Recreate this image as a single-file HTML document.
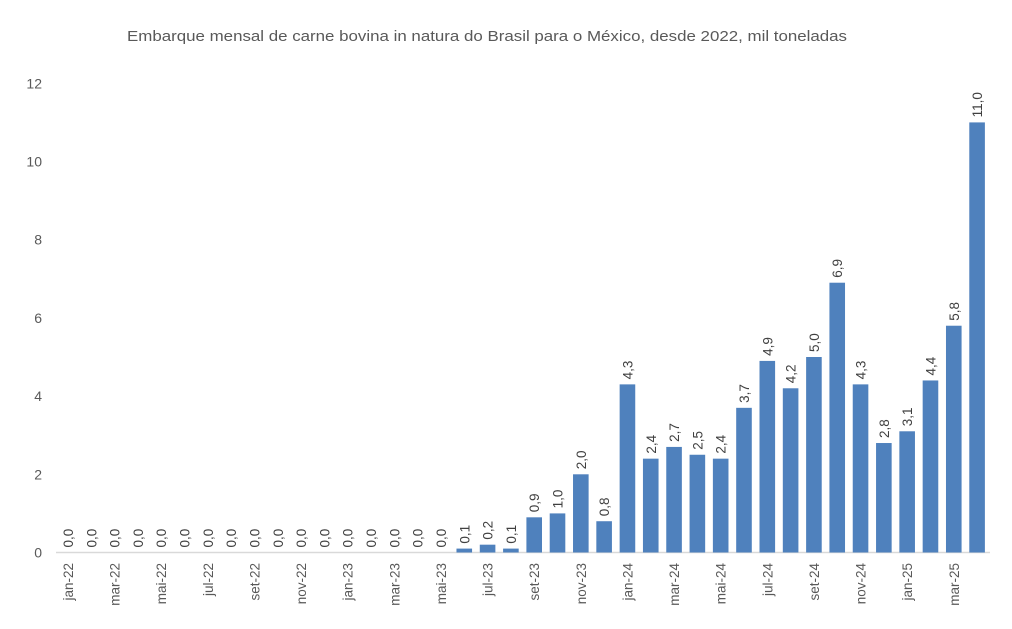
<!DOCTYPE html>
<html><head><meta charset="utf-8"><style>
body{margin:0;background:#fff;}
svg{display:block;font-family:"Liberation Sans",sans-serif;}
</style></head><body>
<svg id="c" width="1012" height="629" xmlns="http://www.w3.org/2000/svg">
<text x="487" y="41" font-size="15" fill="#595959" text-anchor="middle" textLength="720" lengthAdjust="spacingAndGlyphs">Embarque mensal de carne bovina in natura do Brasil para o México, desde 2022, mil toneladas</text>
<line x1="56" y1="552.5" x2="990" y2="552.5" stroke="#d9d9d9" stroke-width="1.5"/>
</svg>
<script>
var s=document.getElementById('c'),ns='http://www.w3.org/2000/svg';
function el(t,a,txt){var e=document.createElementNS(ns,t);for(var k in a)e.setAttribute(k,a[k]);if(txt!=null)e.textContent=txt;s.appendChild(e);return e;}
var v=[];for(var i=0;i<17;i++)v.push(0);
v=v.concat([0.1,0.2,0.1,0.9,1.0,2.0,0.8,4.3,2.4,2.7,2.5,2.4,3.7,4.9,4.2,5.0,6.9,4.3,2.8,3.1,4.4,5.8,11.0]);
var m=['jan','fev','mar','abr','mai','jun','jul','ago','set','out','nov','dez'];
var y0=552.5,u=39.1;
for(var g=0;g<=12;g+=2){el('text',{x:42,y:y0-g*u+5,'font-size':14,fill:'#595959','text-anchor':'end'},String(g));}
for(var i=0;i<40;i++){
 var cx=68+i*23.31,h=v[i]*u;
 if(h>0)el('rect',{x:cx-7.8,y:y0-h,width:15.6,height:h,fill:'#4f81bd'});
 var ty=y0-h-5;
 el('text',{transform:'translate('+(cx+5)+','+ty+') rotate(-90)','font-size':13.5,fill:'#404040'},v[i].toFixed(1).replace('.',','));
 if(i%2==0){var yr=22+Math.floor(i/12);
 el('text',{transform:'translate('+(cx+5)+',563) rotate(-90)','font-size':13.5,fill:'#595959','text-anchor':'end'},m[i%12]+'-'+yr);}
}
</script>
</body></html>
